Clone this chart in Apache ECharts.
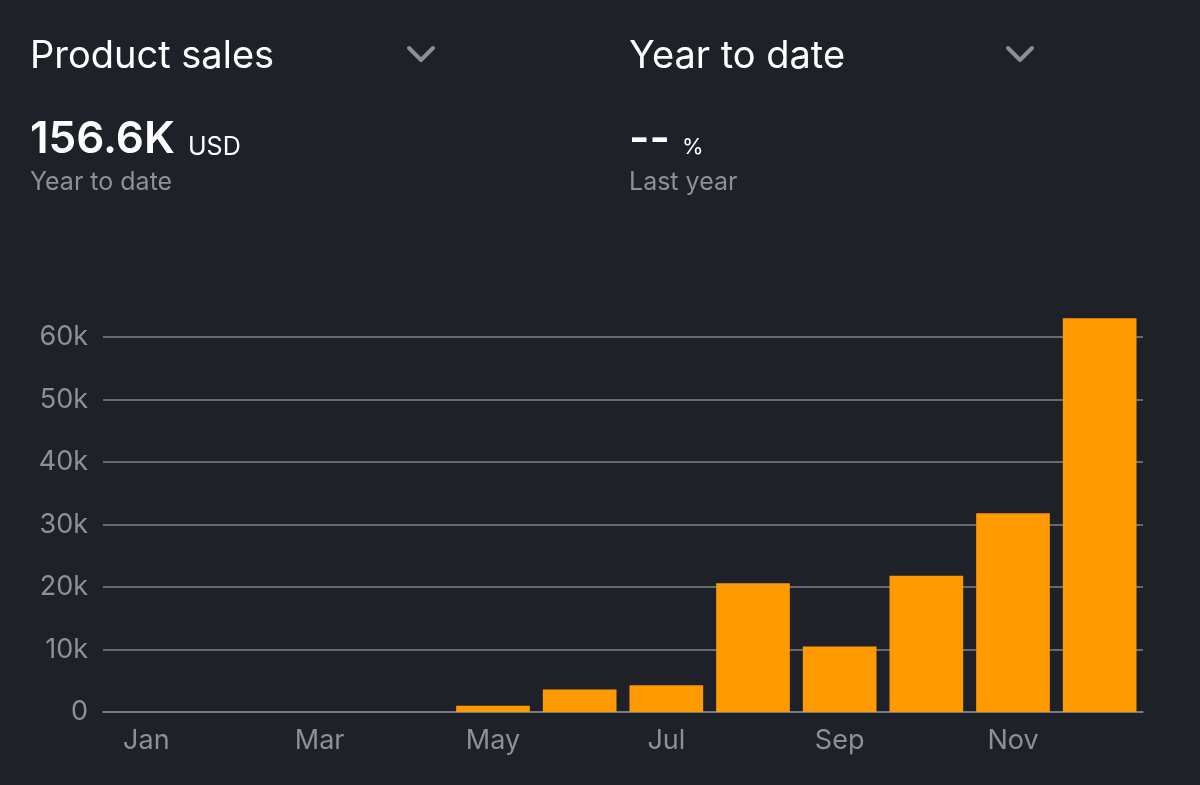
<!DOCTYPE html>
<html>
<head>
<meta charset="utf-8">
<script src="https://cdn.jsdelivr.net/npm/echarts@6/dist/echarts.min.js"></script>
<style>
html,body{margin:0;padding:0;background:#1e2128;}
#chart{width:1200px;height:785px;}
</style>
</head>
<body>
<div id="chart"></div>
<script>
const months = ['Jan','Feb','Mar','Apr','May','Jun','Jul','Aug','Sep','Oct','Nov','Dec'];
const sales = [0, 0, 0, 0, 1000, 3600, 4300, 20600, 10500, 21800, 31800, 63000];
const yTicks = [0, 10000, 20000, 30000, 40000, 50000, 60000];
const headerLeft = {title: 'Product sales', value: '156.6K', unit: 'USD', sub: 'Year to date'};
const headerRight = {title: 'Year to date', value: '--', unit: '%', sub: 'Last year'};

const FONT = 'Inter, Roboto, "Noto Sans", sans-serif';
const WHITE = '#ffffff';
const GREY = '#8c9098';

function header(h, x0, chevX, unitX) {
  return [
    {type:'text', x: x0, y: 57, style:{text:h.title, fill:WHITE, font:'38px '+FONT, verticalAlign:'middle'}},
    {type:'polyline', shape:{points:[[chevX,48],[chevX+12,60],[chevX+24,48]]},
     style:{stroke:'#8a8e96', lineWidth:4, fill:null, lineCap:'round', lineJoin:'round'}},
    {type:'text', x: x0, y: 140, style:{text:h.value, fill:WHITE, font:'600 44px '+FONT, verticalAlign:'middle'}},
    {type:'text', x: unitX, y: 147, style:{text:h.unit, fill:WHITE, font:(h.value==='--'?'22px ':'25px ')+FONT, verticalAlign:'middle'}},
    {type:'text', x: x0, y: 182, style:{text:h.sub, fill:GREY, font:'25px '+FONT, verticalAlign:'middle'}}
  ];
}

const chart = echarts.init(document.getElementById('chart'));
chart.setOption({
  backgroundColor: '#1e2128',
  animation: false,
  graphic: [].concat(header(headerLeft, 30, 409, 188), header(headerRight, 629, 1008, 682)),
  grid: {left: 103, right: 57, top: 337, bottom: 73, containLabel: false},
  xAxis: {
    type: 'category',
    data: months,
    axisLine: {show: true, lineStyle: {color: '#80838a', width: 1.5}},
    axisTick: {show: false},
    axisLabel: {interval: 1, color: GREY, fontSize: 27, fontFamily: FONT, margin: 15}
  },
  yAxis: {
    type: 'value',
    min: yTicks[0],
    max: yTicks[yTicks.length - 1],
    interval: 10000,
    axisLine: {show: false},
    axisTick: {show: false},
    axisLabel: {color: GREY, fontSize: 27, fontFamily: FONT, margin: 15,
      formatter: v => v === 0 ? '0' : (v / 1000) + 'k'},
    splitLine: {lineStyle: {color: '#80838a', width: 1.5}}
  },
  series: [{
    type: 'bar',
    data: sales,
    clip: false,
    barCategoryGap: '15%',
    itemStyle: {color: '#ff9a00'}
  }]
});
</script>
</body>
</html>
